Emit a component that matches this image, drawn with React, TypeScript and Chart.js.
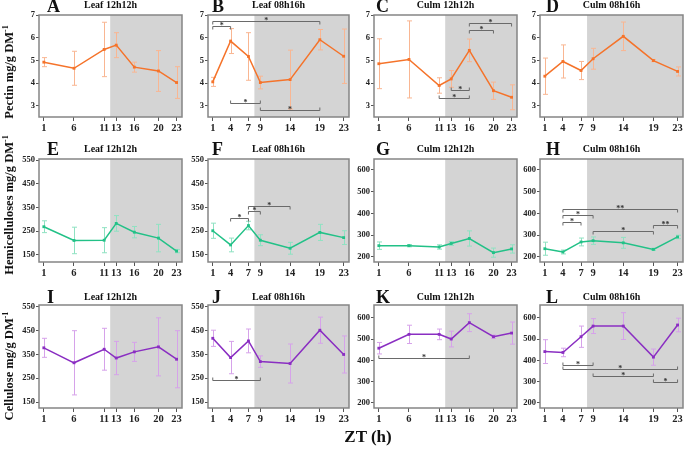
import React, { useEffect, useRef } from "react";
import { Chart, registerables } from "chart.js";
Chart.register(...registerables);

// ---------- categories (ZT hours) ----------
const zt1212 = [1, 6, 11, 13, 16, 20, 23];
const zt0816 = [1, 4, 7, 9, 14, 19, 23];

// ---------- y tick labels ----------
const pectinTicks = [3, 4, 5, 6, 7];
const leafTicks = [150, 200, 250, 300, 350, 400, 450, 500, 550];
const culmTicks = [200, 300, 400, 500, 600];

// ---------- Pectin ----------
const pectinLeaf1212 = [4.92, 4.65, 5.48, 5.67, 4.7, 4.53, 4.02];
const pectinLeaf1212Err = [0.2, 0.75, 1.2, 0.55, 0.22, 0.9, 0.7];
const pectinLeaf0816 = [4.05, 5.85, 5.17, 4.02, 4.15, 5.91, 5.18];
const pectinLeaf0816Err = [0.2, 0.55, 1.05, 0.28, 1.3, 0.45, 1.2];
const pectinCulm1212 = [4.85, 5.04, 3.89, 4.18, 5.44, 3.66, 3.37];
const pectinCulm1212Err = [1.1, 1.7, 0.34, 0.37, 0.5, 0.38, 0.55];
const pectinCulm0816 = [4.3, 4.95, 4.55, 5.07, 6.06, 4.99, 4.51];
const pectinCulm0816Err = [0.8, 0.73, 0.4, 0.46, 0.63, 0.05, 0.2];

// ---------- Hemicelluloses ----------
const hemiLeaf1212 = [269, 211, 212, 283, 246, 221, 166];
const hemiLeaf1212Err = [25, 56, 53, 33, 24, 58, 7];
const hemiLeaf0816 = [252, 192, 274, 212, 178, 245, 223];
const hemiLeaf0816Err = [32, 29, 18, 23, 25, 34, 29];
const hemiCulm1212 = [252, 252, 246, 262, 285, 220, 237];
const hemiCulm1212Err = [17, 5, 10, 9, 35, 21, 19];
const hemiCulm0816 = [238, 223, 269, 275, 265, 235, 292];
const hemiCulm0816Err = [30, 9, 18, 17, 25, 5, 8];

// ---------- Cellulose ----------
const celLeaf1212 = [378, 315, 372, 335, 361, 382, 330];
const celLeaf1212Err = [40, 135, 88, 70, 40, 122, 120];
const celLeaf0816 = [418, 337, 407, 320, 312, 452, 350];
const celLeaf0816Err = [34, 68, 50, 24, 82, 55, 78];
const celCulm1212 = [457, 522, 522, 500, 577, 511, 528];
const celCulm1212Err = [27, 43, 25, 37, 42, 8, 52];
const celCulm0816 = [441, 437, 511, 561, 561, 415, 566];
const celCulm0816Err = [56, 20, 50, 35, 63, 38, 32];

// ---------- significance brackets [from, to, y, label, ticksUp] ----------
type Bracket = [number, number, number, string, boolean];
const sigB: Bracket[] = [
  [1, 19, 6.73, "*", false],
  [1, 4, 6.51, "*", false],
  [4, 9, 3.1, "*", true],
  [9, 19, 2.82, "*", true],
];
const sigC: Bracket[] = [
  [16, 23, 6.63, "*", false],
  [16, 20, 6.33, "*", false],
  [13, 16, 3.67, "*", true],
  [11, 16, 3.34, "*", true],
];
const sigF: Bracket[] = [
  [7, 14, 356, "*", false],
  [7, 9, 335, "*", false],
  [4, 7, 307, "*", false],
];
const sigH: Bracket[] = [
  [4, 23, 421, "**", false],
  [4, 9, 393, "*", false],
  [4, 7, 362, "*", false],
  [19, 23, 347, "**", false],
  [9, 19, 319, "*", false],
];
const sigJ: Bracket[] = [[1, 9, 243, "*", true]];
const sigK: Bracket[] = [[1, 16, 410, "*", true]];
const sigL: Bracket[] = [
  [4, 9, 379, "*", true],
  [4, 23, 357, "*", true],
  [9, 19, 328, "*", true],
  [19, 23, 300, "*", true],
];

const ORANGE = { line: "#f5732a", err: "#f9b692" };
const GREEN = { line: "#22c187", err: "#8fe2c2" };
const PURPLE = { line: "#8a2ec2", err: "#d6a2ea" };

const SERIF = "'Liberation Serif', 'Times New Roman', serif";

type PanelDef = {
  letter: string;
  title: string;
  xs: number[];
  vals: number[];
  errs: number[];
  lightEnd: number;
  color: { line: string; err: string };
  yMin: number;
  yMax: number;
  yTicks: number[];
  sig: Bracket[];
};

const panels: PanelDef[][] = [
  [
    { letter: "A", title: "Leaf 12h12h", xs: zt1212, vals: pectinLeaf1212, errs: pectinLeaf1212Err, lightEnd: 12, color: ORANGE, yMin: 2.5, yMax: 7, yTicks: pectinTicks, sig: [] },
    { letter: "B", title: "Leaf 08h16h", xs: zt0816, vals: pectinLeaf0816, errs: pectinLeaf0816Err, lightEnd: 8, color: ORANGE, yMin: 2.5, yMax: 7, yTicks: pectinTicks, sig: sigB },
    { letter: "C", title: "Culm 12h12h", xs: zt1212, vals: pectinCulm1212, errs: pectinCulm1212Err, lightEnd: 12, color: ORANGE, yMin: 2.5, yMax: 7, yTicks: pectinTicks, sig: sigC },
    { letter: "D", title: "Culm 08h16h", xs: zt0816, vals: pectinCulm0816, errs: pectinCulm0816Err, lightEnd: 8, color: ORANGE, yMin: 2.5, yMax: 7, yTicks: pectinTicks, sig: [] },
  ],
  [
    { letter: "E", title: "Leaf 12h12h", xs: zt1212, vals: hemiLeaf1212, errs: hemiLeaf1212Err, lightEnd: 12, color: GREEN, yMin: 120, yMax: 555, yTicks: leafTicks, sig: [] },
    { letter: "F", title: "Leaf 08h16h", xs: zt0816, vals: hemiLeaf0816, errs: hemiLeaf0816Err, lightEnd: 8, color: GREEN, yMin: 120, yMax: 555, yTicks: leafTicks, sig: sigF },
    { letter: "G", title: "Culm 12h12h", xs: zt1212, vals: hemiCulm1212, errs: hemiCulm1212Err, lightEnd: 12, color: GREEN, yMin: 177, yMax: 650, yTicks: culmTicks, sig: [] },
    { letter: "H", title: "Culm 08h16h", xs: zt0816, vals: hemiCulm0816, errs: hemiCulm0816Err, lightEnd: 8, color: GREEN, yMin: 177, yMax: 650, yTicks: culmTicks, sig: sigH },
  ],
  [
    { letter: "I", title: "Leaf 12h12h", xs: zt1212, vals: celLeaf1212, errs: celLeaf1212Err, lightEnd: 12, color: PURPLE, yMin: 125, yMax: 558, yTicks: leafTicks, sig: [] },
    { letter: "J", title: "Leaf 08h16h", xs: zt0816, vals: celLeaf0816, errs: celLeaf0816Err, lightEnd: 8, color: PURPLE, yMin: 125, yMax: 558, yTicks: leafTicks, sig: sigJ },
    { letter: "K", title: "Culm 12h12h", xs: zt1212, vals: celCulm1212, errs: celCulm1212Err, lightEnd: 12, color: PURPLE, yMin: 176, yMax: 660, yTicks: culmTicks, sig: sigK },
    { letter: "L", title: "Culm 08h16h", xs: zt0816, vals: celCulm0816, errs: celCulm0816Err, lightEnd: 8, color: PURPLE, yMin: 176, yMax: 660, yTicks: culmTicks, sig: sigL },
  ],
];

const yTitles = ["Pectin", "Hemicelluloses", "Cellulose"];

// layout (pixels)
const colLeft = [39, 208, 374, 540];
const colRight = [182, 349, 517, 683];
const rowTop = [15, 159, 305];
const rowBottom = [117, 262, 408];
const yTitleCenter = [72, 205, 366];
const letterLeft = [47, 212, 376, 546];
const letterBase = [12, 155, 303];
const titleBase = [8, 152, 300];

const PAD_L = 30;
const PAD_T = 10;
const PAD_R = 8;
const PAD_B = 20;

const decoPlugin = {
  id: "deco",
  beforeDatasetsDraw(chart: any, _args: any, opts: any) {
    const { ctx, chartArea: a, scales } = chart;
    const x = scales.x;
    const y = scales.y;
    ctx.save();
    const sx = x.getPixelForValue(opts.lightEnd);
    ctx.fillStyle = "#d4d4d4";
    ctx.fillRect(sx, a.top, a.right - sx, a.bottom - a.top);
    // error bars
    ctx.strokeStyle = opts.errColor;
    ctx.lineWidth = 1;
    opts.xs.forEach((xv: number, i: number) => {
      const px = Math.round(x.getPixelForValue(xv)) + 0.5;
      const t = y.getPixelForValue(opts.vals[i] + opts.errs[i]);
      const b = y.getPixelForValue(opts.vals[i] - opts.errs[i]);
      ctx.beginPath();
      ctx.moveTo(px, t);
      ctx.lineTo(px, b);
      ctx.moveTo(px - 2.5, t);
      ctx.lineTo(px + 2.5, t);
      ctx.moveTo(px - 2.5, b);
      ctx.lineTo(px + 2.5, b);
      ctx.stroke();
    });
    ctx.restore();
  },
  afterDatasetsDraw(chart: any, _args: any, opts: any) {
    const { ctx, chartArea: a, scales } = chart;
    const x = scales.x;
    const y = scales.y;
    ctx.save();
    // brackets
    (opts.sig as Bracket[]).forEach(([f, t, yv, label, up]) => {
      const x1 = x.getPixelForValue(f);
      const x2 = x.getPixelForValue(t);
      const py = Math.round(y.getPixelForValue(yv)) + 0.5;
      const tk = up ? -3 : 3;
      ctx.strokeStyle = "#6a6a6a";
      ctx.lineWidth = 1;
      ctx.beginPath();
      ctx.moveTo(x1, py + tk);
      ctx.lineTo(x1, py);
      ctx.lineTo(x2, py);
      ctx.lineTo(x2, py + tk);
      ctx.stroke();
      ctx.fillStyle = "#333";
      ctx.font = `bold 8px ${SERIF}`;
      ctx.textAlign = "center";
      ctx.textBaseline = "alphabetic";
      ctx.fillText(label, (x1 + x2) / 2, py + 1.5);
    });
    // frame
    ctx.strokeStyle = "#858585";
    ctx.lineWidth = 1.5;
    ctx.strokeRect(a.left, a.top, a.right - a.left, a.bottom - a.top);
    ctx.restore();
  },
};

function Panel({ p, row, col }: { p: PanelDef; row: number; col: number }) {
  const ref = useRef<HTMLCanvasElement>(null);
  const w = colRight[col] - colLeft[col] + PAD_L + PAD_R;
  const h = rowBottom[row] - rowTop[row] + PAD_T + PAD_B;
  useEffect(() => {
    const chart = new Chart(ref.current as HTMLCanvasElement, {
      type: "line",
      data: {
        datasets: [
          {
            data: p.xs.map((xv, i) => ({ x: xv, y: p.vals[i] })),
            borderColor: p.color.line,
            backgroundColor: p.color.line,
            borderWidth: 1.5,
            pointStyle: "rect",
            pointRadius: 2,
            pointBorderWidth: 0,
            tension: 0,
            clip: false as any,
          },
        ],
      },
      options: {
        animation: false,
        responsive: false,
        devicePixelRatio: window.devicePixelRatio || 1,
        layout: { padding: { left: 0, top: PAD_T, right: PAD_R, bottom: 0 } },
        plugins: {
          legend: { display: false },
          tooltip: { enabled: false },
          deco: {
            lightEnd: p.lightEnd,
            xs: p.xs,
            vals: p.vals,
            errs: p.errs,
            errColor: p.color.err,
            sig: p.sig,
          },
        } as any,
        scales: {
          x: {
            type: "linear",
            min: 0.2,
            max: 23.9,
            afterBuildTicks: (axis: any) => {
              axis.ticks = p.xs.map((v) => ({ value: v }));
            },
            afterFit: (scale: any) => {
              scale.height = PAD_B;
            },
            grid: { display: true, drawOnChartArea: false, drawTicks: true, tickLength: 4, color: "#555" },
            border: { display: false },
            ticks: {
              autoSkip: false,
              maxRotation: 0,
              padding: 1,
              color: "#222",
              font: { family: SERIF, weight: "bold", size: 10.5 },
              callback: (v: any) => String(v),
            },
          },
          y: {
            type: "linear",
            min: p.yMin,
            max: p.yMax,
            afterBuildTicks: (axis: any) => {
              axis.ticks = p.yTicks.map((v) => ({ value: v }));
            },
            afterFit: (scale: any) => {
              scale.width = PAD_L;
            },
            grid: { display: true, drawOnChartArea: false, drawTicks: true, tickLength: 3, color: "#555" },
            border: { display: false },
            ticks: {
              padding: 1,
              color: "#222",
              font: { family: SERIF, weight: "bold", size: 8.5 },
              callback: (v: any) => String(v),
            },
          },
        },
      },
      plugins: [decoPlugin as any],
    });
    return () => chart.destroy();
  }, []);
  return (
    <canvas
      ref={ref}
      width={w}
      height={h}
      style={{
        position: "absolute",
        left: colLeft[col] - PAD_L,
        top: rowTop[row] - PAD_T,
        width: w,
        height: h,
      }}
    />
  );
}

function Text({
  x,
  base,
  size,
  children,
  center,
}: {
  x: number;
  base: number;
  size: number;
  children: React.ReactNode;
  center?: boolean;
}) {
  return (
    <div
      style={{
        position: "absolute",
        left: x,
        top: base - 0.8375 * size,
        fontFamily: SERIF,
        fontWeight: "bold",
        fontSize: size,
        lineHeight: 1,
        whiteSpace: "nowrap",
        color: "#111",
        transform: center ? "translateX(-50%)" : undefined,
      }}
    >
      {children}
    </div>
  );
}

export default function App() {
  return (
    <div
      style={{
        position: "fixed",
        left: 0,
        top: 0,
        width: 685,
        height: 456,
        background: "#fff",
        overflow: "hidden",
      }}
    >
      {panels.map((row, r) =>
        row.map((p, c) => (
          <React.Fragment key={p.letter}>
            <Panel p={p} row={r} col={c} />
            <Text x={letterLeft[c]} base={letterBase[r]} size={18}>
              {p.letter}
            </Text>
            <Text x={(colLeft[c] + colRight[c]) / 2} base={titleBase[r]} size={10} center>
              {p.title}
            </Text>
          </React.Fragment>
        ))
      )}
      {yTitles.map((t, r) => (
        <div
          key={t}
          style={{
            position: "absolute",
            left: 9,
            top: yTitleCenter[r],
            transform: "translate(-50%, -50%) rotate(-90deg)",
            fontFamily: SERIF,
            fontWeight: "bold",
            fontSize: 12.5,
            lineHeight: 1,
            whiteSpace: "nowrap",
            color: "#111",
          }}
        >
          {t} mg/g DM<sup style={{ fontSize: 8, verticalAlign: "super", lineHeight: 0 }}>-1</sup>
        </div>
      ))}
      <Text x={368} base={442} size={17} center>
        ZT (h)
      </Text>
    </div>
  );
}
